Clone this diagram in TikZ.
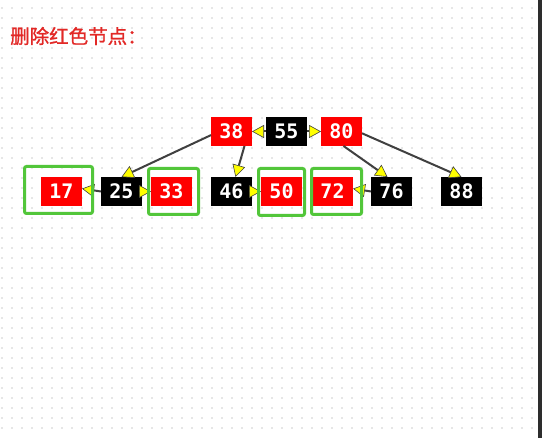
\documentclass[tikz,border=0pt]{standalone}
\usepackage{fontspec}
\newfontfamily\cjk{Noto Sans CJK SC}[FakeBold=1.2]
\newfontfamily\keyfont{DejaVu Sans Mono}
\definecolor{rbred}{RGB}{255, 0, 0}
\definecolor{titlered}{RGB}{226, 40, 38}
\definecolor{edgegray}{RGB}{64, 64, 64}
\definecolor{hlgreen}{RGB}{82, 198, 58}
\definecolor{dotgray}{RGB}{150, 150, 150}
\definecolor{arrowyel}{RGB}{255, 255, 0}
\definecolor{stripgray}{RGB}{45, 45, 45}
\usetikzlibrary{arrows.meta, positioning}

\begin{document}
\begin{tikzpicture}[
    x=1pt, y=1pt,
    key/.style={minimum width=41pt, minimum height=29pt, inner sep=0pt, outer sep=0pt,
      fill=#1, text=white, font=\keyfont\bfseries\fontsize{20}{22}\selectfont},
    key/.default=black,
    arrow/.style={-{Triangle[length=12pt, width=13pt, fill=arrowyel, line width=0.6pt]},
      line width=2pt, edgegray},
    hl/.style={draw=hlgreen, line width=3pt, rounded corners=2pt},
  ]

  % Canvas and dot grid
  \fill[white] (0,0) rectangle (542,438);
  \useasboundingbox (0,0) rectangle (542,438);
  \fill[dotgray] \foreach \i in {0,...,53} { \foreach \j in {0,...,42} {
      (2+10*\i, 430-10*\j) circle (0.6pt) } };
  \fill[stripgray] (538,0) rectangle (542,438);

  % Title
  \node[anchor=base west, inner sep=0pt, text=titlered,
        font=\cjk\fontsize{19.5}{22}\selectfont] (title) at (10,394.5) {删除红色节点：};

  % Top row
  \node[key] (n55) at (286.5,306.5) {55};
  \node[key=rbred, left=14pt of n55] (n38) {38};
  \node[key=rbred, right=14pt of n55] (n80) {80};

  % Bottom row
  \node[key=rbred] (n17) at (61.5,246.5) {17};
  \node[key, right=19pt of n17] (n25) {25};
  \node[key=rbred, right=9pt of n25] (n33) {33};
  \node[key, right=19pt of n33] (n46) {46};
  \node[key=rbred, right=9pt of n46] (n50) {50};
  \node[key=rbred, right=10pt of n50] (n72) {72};
  \node[key, right=18pt of n72] (n76) {76};
  \node[key, right=29pt of n76] (n88) {88};

  % Arrows
  \draw[arrow] (n55.west) -- (n38.east);
  \draw[arrow] (n55.east) -- (n80.west);
  \draw[arrow] (n38.190) -- (n25.north);
  \draw[arrow] ([xshift=13pt]n38.south) -- ([xshift=4pt]n46.north);
  \draw[arrow] ([xshift=2pt]n80.south) -- ([xshift=-4pt]n76.north);
  \draw[arrow] (n80.-5) -- (n88.north);
  \draw[arrow] (n25.west) -- (n17.8);
  \draw[arrow] (n25.east) -- (n33.west);
  \draw[arrow] (n46.east) -- (n50.west);
  \draw[arrow] (n76.west) -- (n72.8);

  % Highlights
  \draw[hl] (24.5,271.5) rectangle (92.5,224.5);
  \draw[hl] (148.5,269.5) rectangle (198.5,223.5);
  \draw[hl] (258.5,269.5) rectangle (304.5,222.5);
  \draw[hl] (311.5,269.5) rectangle (361.5,223.5);

\end{tikzpicture}
\end{document}
